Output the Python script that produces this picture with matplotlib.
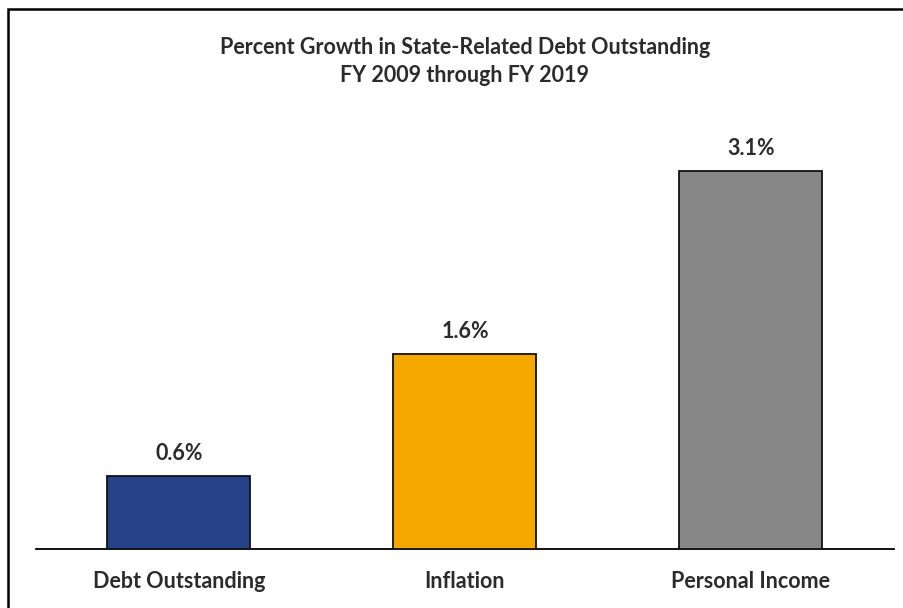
import matplotlib.pyplot as plt
from matplotlib.patches import Rectangle

categories = ["Debt Outstanding", "Inflation", "Personal Income"]
growth = [0.6, 1.6, 3.1]
colors = ["#26428B", "#F5A800", "#878787"]
title = "Percent Growth in State-Related Debt Outstanding\nFY 2009 through FY 2019"

plt.rcParams['font.family'] = ['Lato', 'DejaVu Sans']
text_color = "#2b2b2b"

fig = plt.figure(figsize=(9.04, 6.08), dpi=100)
ax = fig.add_axes([36/904, 59/608, 858/904, 449/608])

x = range(len(categories))
bars = ax.bar(x, growth, width=0.5, color=colors, edgecolor="#111111", linewidth=1.3, zorder=3)

for b, v in zip(bars, growth):
    ax.text(b.get_x() + b.get_width()/2, v + 0.1, f"{v:.1f}%", ha="center", va="bottom",
            fontsize=15.5, fontweight="bold", color=text_color)

ax.set_xlim(-0.5, 2.5)
ax.set_ylim(0, 3.68)
ax.set_xticks(list(x))
ax.set_xticklabels(categories, fontsize=15.5, fontweight="bold", color=text_color)
ax.tick_params(axis="x", length=0, pad=16)
ax.set_yticks([])
for s in ["top", "right", "left"]:
    ax.spines[s].set_visible(False)
ax.spines["bottom"].set_linewidth(1.3)

fig.text(465/904, 1 - 61.5/608, title, ha="center", va="center", fontsize=15.5,
         fontweight="bold", color=text_color, linespacing=1.45)

# outer frame (right and bottom edges fall outside the image)
fig.patches.append(Rectangle((8/904, -0.1), 1.2, 1 - 9/608 + 0.1, transform=fig.transFigure,
                             fill=False, edgecolor="black", linewidth=1.8))

fig.savefig("out.png", dpi=100)
